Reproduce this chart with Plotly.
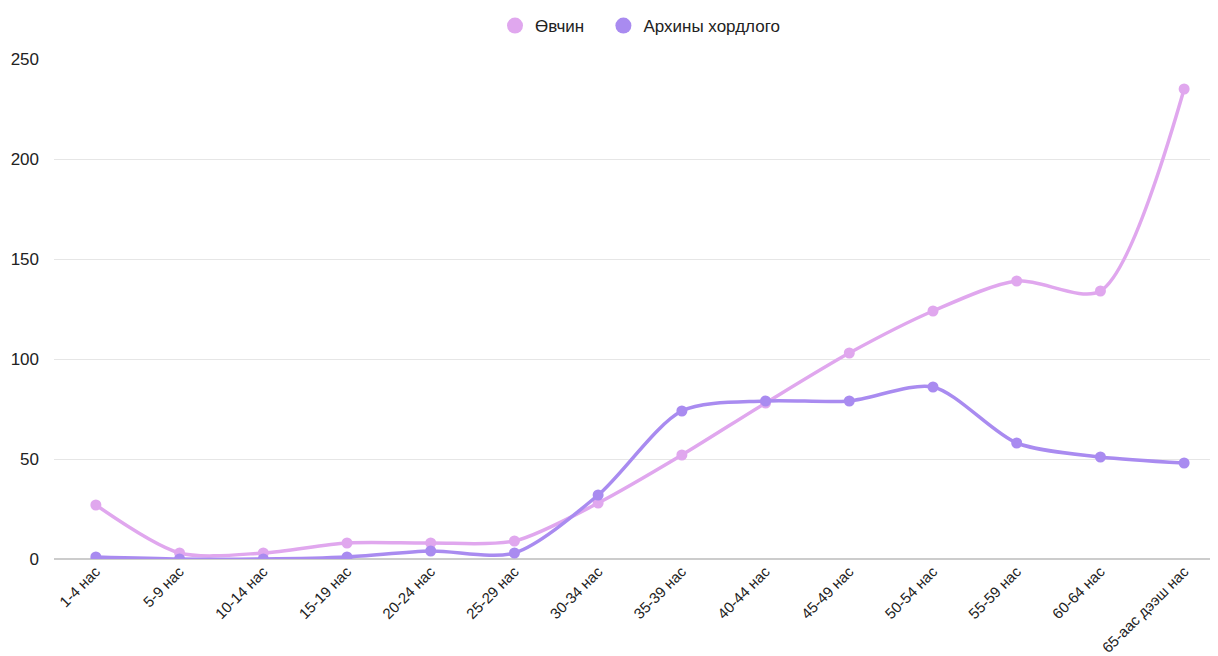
import plotly.graph_objects as go

categories = ["1-4 нас", "5-9 нас", "10-14 нас", "15-19 нас", "20-24 нас", "25-29 нас",
              "30-34 нас", "35-39 нас", "40-44 нас", "45-49 нас", "50-54 нас", "55-59 нас",
              "60-64 нас", "65-аас дээш нас"]
disease = [27, 3, 3, 8, 8, 9, 28, 52, 78, 103, 124, 139, 134, 235]
alcohol = [1, 0, 0, 1, 4, 3, 32, 74, 79, 79, 86, 58, 51, 48]
y_ticks = [0, 50, 100, 150, 200, 250]
series_names = ["Өвчин", "Архины хордлого"]

pink = "#E0A7EE"
purple = "#A98BF0"

fig = go.Figure()
for name, vals, col in [(series_names[0], disease, pink), (series_names[1], alcohol, purple)]:
    fig.add_trace(go.Scatter(x=categories, y=vals, name=name, mode="lines+markers",
                             line=dict(color=col, width=3.5, shape="spline", smoothing=0.8),
                             marker=dict(color=col, size=11), showlegend=False))
for name, col, pad in [(series_names[0], pink, "\u00a0\u00a0\u00a0"), (series_names[1], purple, "")]:
    fig.add_trace(go.Scatter(x=[None], y=[None], name=name + pad, mode="markers",
                             marker=dict(color=col, size=16), showlegend=True))

# page body has an 8px margin, compensate in figure margins
fig.update_layout(
    width=1218, height=656,
    margin=dict(l=46, r=0, t=51, b=105, autoexpand=False),
    paper_bgcolor="white", plot_bgcolor="white",
    font=dict(family="Liberation Sans, Arial, sans-serif", color="#222"),
    legend=dict(orientation="h", x=0.5, xanchor="center", y=1.066, yanchor="middle",
                font=dict(size=17), itemsizing="trace", itemwidth=30),
    showlegend=True,
)
fig.update_xaxes(range=[-0.5, 13.5], tickangle=-45, tickfont=dict(size=15),
                 showgrid=False, showline=False, zeroline=False, ticks="", automargin=False)
fig.update_yaxes(range=[0, 250], tickvals=y_ticks, tickfont=dict(size=17),
                 showgrid=True, gridcolor="#e6e6e6", gridwidth=1,
                 zeroline=True, zerolinecolor="#cccccc", zerolinewidth=1.5,
                 ticks="", ticklabelstandoff=14, automargin=False)

fig.write_html("out.html")
